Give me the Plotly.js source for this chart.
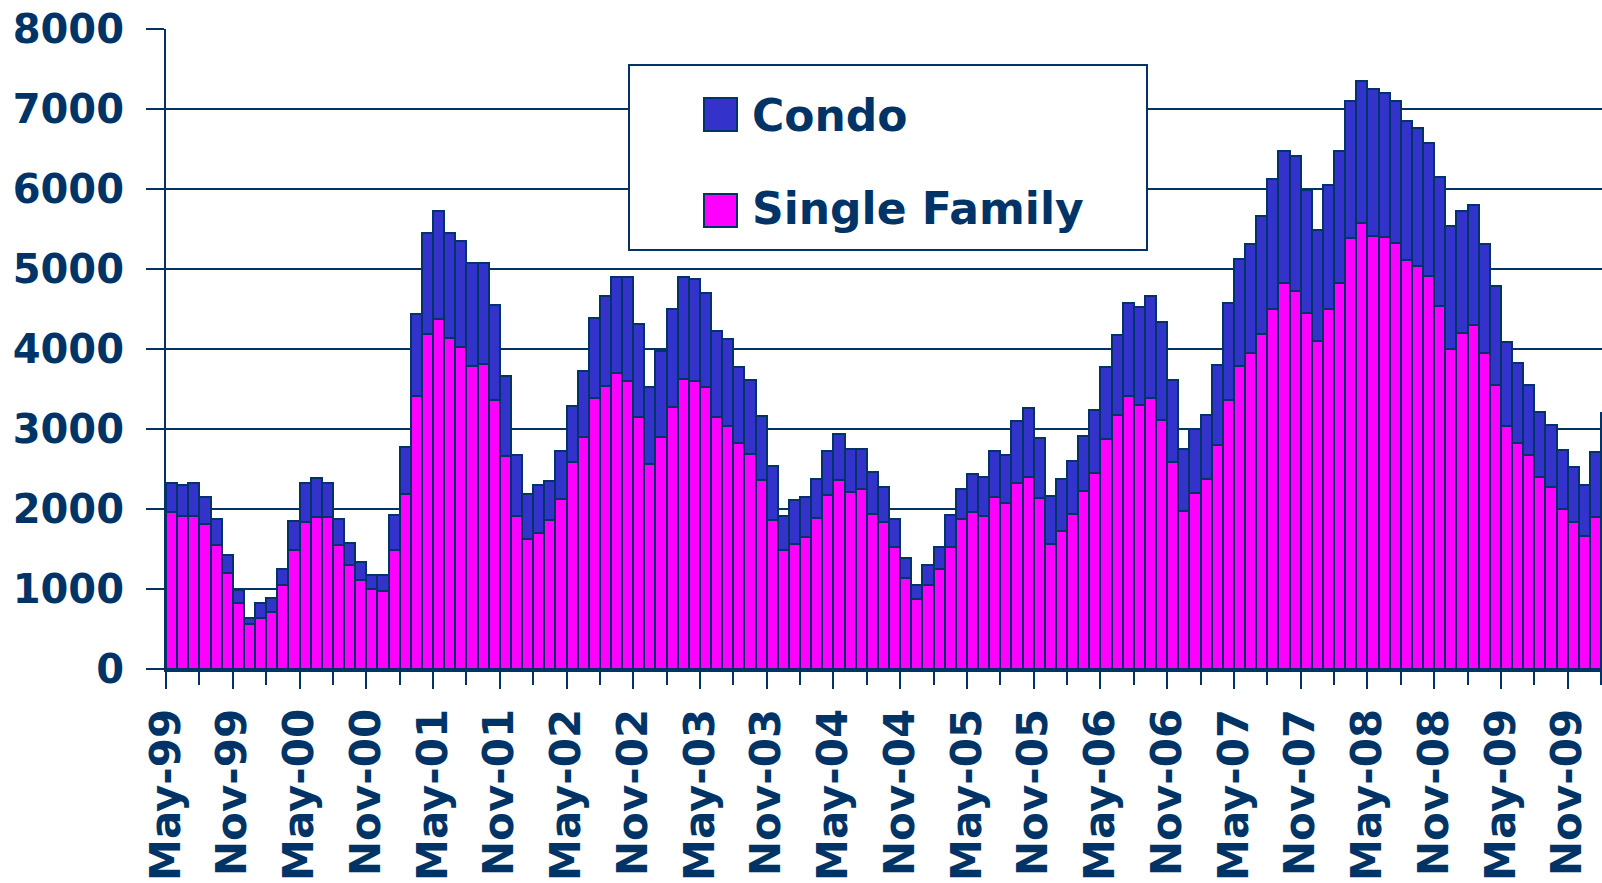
<!DOCTYPE html>
<html>
<head>
<meta charset="utf-8">
<script src="https://cdn.plot.ly/plotly-3.0.1.min.js"></script>
<style>
  html, body { margin: 0; padding: 0; background: #ffffff; }
  #chart { width: 1602px; height: 883px; }
</style>
</head>
<body>
<div id="chart"></div>
<script>
// monthly categories, May-99 .. Feb-10
const months = [
  'May-99','Jun-99','Jul-99','Aug-99','Sep-99','Oct-99','Nov-99','Dec-99',
  'Jan-00','Feb-00','Mar-00','Apr-00','May-00','Jun-00','Jul-00','Aug-00','Sep-00','Oct-00','Nov-00','Dec-00',
  'Jan-01','Feb-01','Mar-01','Apr-01','May-01','Jun-01','Jul-01','Aug-01','Sep-01','Oct-01','Nov-01','Dec-01',
  'Jan-02','Feb-02','Mar-02','Apr-02','May-02','Jun-02','Jul-02','Aug-02','Sep-02','Oct-02','Nov-02','Dec-02',
  'Jan-03','Feb-03','Mar-03','Apr-03','May-03','Jun-03','Jul-03','Aug-03','Sep-03','Oct-03','Nov-03','Dec-03',
  'Jan-04','Feb-04','Mar-04','Apr-04','May-04','Jun-04','Jul-04','Aug-04','Sep-04','Oct-04','Nov-04','Dec-04',
  'Jan-05','Feb-05','Mar-05','Apr-05','May-05','Jun-05','Jul-05','Aug-05','Sep-05','Oct-05','Nov-05','Dec-05',
  'Jan-06','Feb-06','Mar-06','Apr-06','May-06','Jun-06','Jul-06','Aug-06','Sep-06','Oct-06','Nov-06','Dec-06',
  'Jan-07','Feb-07','Mar-07','Apr-07','May-07','Jun-07','Jul-07','Aug-07','Sep-07','Oct-07','Nov-07','Dec-07',
  'Jan-08','Feb-08','Mar-08','Apr-08','May-08','Jun-08','Jul-08','Aug-08','Sep-08','Oct-08','Nov-08','Dec-08',
  'Jan-09','Feb-09','Mar-09','Apr-09','May-09','Jun-09','Jul-09','Aug-09','Sep-09','Oct-09','Nov-09','Dec-09',
  'Jan-10','Feb-10'
];

const singleFamily = [
  1965,1910,1910,1815,1550,1195,820,560,
  640,710,1045,1490,1840,1895,1895,1550,1295,1110,1000,975,
  1485,2185,3415,4190,4370,4135,4025,3790,3815,3365,2660,1915,
  1620,1695,1860,2125,2585,2895,3390,3540,3705,3600,3145,2560,
  2905,3280,3620,3600,3520,3145,3035,2830,2685,2365,1860,1485,
  1560,1650,1890,2180,2365,2215,2255,1935,1835,1520,1135,870,
  1045,1245,1530,1870,1965,1915,2155,2080,2320,2400,2135,1560,
  1725,1935,2220,2450,2870,3170,3410,3300,3390,3115,2585,1975,
  2195,2370,2805,3365,3790,3945,4185,4505,4830,4720,4455,4105,
  4505,4830,5385,5570,5410,5395,5330,5115,5040,4915,4540,4005,
  4195,4295,3955,3545,3035,2830,2670,2405,2270,2005,1840,1660,
  1895,2150
];

const condo = [
  365,390,420,330,320,225,170,80,
  190,180,210,360,490,490,435,320,280,230,175,200,
  435,595,1020,1265,1360,1320,1320,1290,1265,1180,1000,755,
  570,605,495,605,700,825,995,1120,1190,1295,1165,970,
  1075,1215,1275,1270,1185,1080,1085,940,925,795,680,430,
  550,495,485,550,575,535,495,530,440,350,250,185,
  260,280,395,375,470,490,575,590,780,865,755,605,
  650,660,690,785,900,1000,1165,1220,1270,1220,1025,780,
  800,810,995,1205,1340,1370,1480,1615,1640,1695,1530,1380,
  1540,1640,1720,1780,1835,1800,1775,1730,1720,1660,1610,1530,
  1530,1505,1360,1240,1055,995,885,805,780,730,680,640,
  815,1050
];

const tickText = [
  'May-99','Nov-99','May-00','Nov-00','May-01','Nov-01','May-02','Nov-02',
  'May-03','Nov-03','May-04','Nov-04','May-05','Nov-05','May-06','Nov-06',
  'May-07','Nov-07','May-08','Nov-08','May-09','Nov-09'
];
const minorText = [
  'Aug-99','Feb-00','Aug-00','Feb-01','Aug-01','Feb-02','Aug-02','Feb-03',
  'Aug-03','Feb-04','Aug-04','Feb-05','Aug-05','Feb-06','Aug-06','Feb-07',
  'Aug-07','Feb-08','Aug-08','Feb-09','Aug-09','Feb-10'
];

const seriesNames = ['Condo', 'Single Family'];
const seriesColors = ['#3333CC', '#FF00FF'];

document.addEventListener('DOMContentLoaded', function () {
    const navy = '#003366';
    const font = {family: 'DejaVu Sans', weight: 'bold', color: navy};

    // bars sit between ticks: the label marks the left edge of its month
    const xPos = months.map((m, i) => i + 0.5);
    const tickVals = tickText.map(t => months.indexOf(t));
    const minorVals = minorText.map(t => months.indexOf(t));

    const sfTrace = {
        type: 'bar', name: seriesNames[1], x: xPos, y: singleFamily,
        text: months, textposition: 'none',
        hovertemplate: '%{text}: %{y}<extra>Single Family</extra>',
        marker: {color: seriesColors[1], line: {color: navy, width: 2}},
        width: 1
    };
    const condoTrace = {
        type: 'bar', name: seriesNames[0], x: xPos, y: condo,
        text: months, textposition: 'none',
        hovertemplate: '%{text}: %{y}<extra>Condo</extra>',
        marker: {color: seriesColors[0], line: {color: navy, width: 2}},
        width: 1
    };

    // plot box in page pixels, used to place the hand made legend
    const plotL = 166, plotR = 1602, plotT = 29, plotB = 669;
    const px = v => (v - plotL) / (plotR - plotL);
    const py = v => (plotB - v) / (plotB - plotT);

    const shapes = [
        {type: 'rect', xref: 'paper', yref: 'paper', layer: 'above',
         x0: px(629), x1: px(1147), y0: py(65), y1: py(250),
         fillcolor: '#ffffff', line: {color: navy, width: 2}},
        {type: 'rect', xref: 'paper', yref: 'paper', layer: 'above',
         x0: px(704), x1: px(737), y0: py(98), y1: py(131),
         fillcolor: seriesColors[0], line: {color: navy, width: 2}},
        {type: 'rect', xref: 'paper', yref: 'paper', layer: 'above',
         x0: px(704), x1: px(737), y0: py(194), y1: py(227),
         fillcolor: seriesColors[1], line: {color: navy, width: 2}}
    ];
    const annotations = [
        {xref: 'paper', yref: 'paper', x: px(750), y: py(115), xanchor: 'left', yanchor: 'middle',
         text: seriesNames[0], showarrow: false, font: Object.assign({size: 44}, font)},
        {xref: 'paper', yref: 'paper', x: px(750), y: py(208), xanchor: 'left', yanchor: 'middle',
         text: seriesNames[1], showarrow: false, font: Object.assign({size: 44}, font)}
    ];

    const layout = {
        width: 1602, height: 883,
        margin: {l: plotL, r: 0, t: plotT, b: 883 - plotB, pad: 0},
        paper_bgcolor: '#ffffff', plot_bgcolor: '#ffffff',
        barmode: 'stack', bargap: 0,
        showlegend: false,
        xaxis: {
            range: [0, 129.08], fixedrange: true,
            tickmode: 'array', tickvals: tickVals, ticktext: tickText,
            tickangle: -90, ticks: 'outside', ticklen: 17, tickwidth: 2, tickcolor: navy,
            ticklabelstandoff: 3,
            minor: {tickmode: 'array', tickvals: minorVals, ticks: 'outside', ticklen: 13,
                    tickwidth: 2, tickcolor: navy, showgrid: false},
            tickfont: Object.assign({size: 42}, font),
            showline: true, linecolor: navy, linewidth: 3,
            showgrid: false, zeroline: false
        },
        yaxis: {
            range: [0, 8000], fixedrange: true,
            tickmode: 'linear', tick0: 0, dtick: 1000,
            ticks: 'outside', ticklen: 18, tickwidth: 2, tickcolor: navy,
            ticklabelstandoff: 14,
            tickfont: Object.assign({size: 40}, font),
            showline: true, linecolor: navy, linewidth: 2,
            showgrid: true, gridcolor: navy, gridwidth: 2,
            zeroline: false
        },
        shapes: shapes,
        annotations: annotations
    };

    Plotly.newPlot('chart', [sfTrace, condoTrace], layout, {displayModeBar: false, staticPlot: true});
});
</script>
</body>
</html>
